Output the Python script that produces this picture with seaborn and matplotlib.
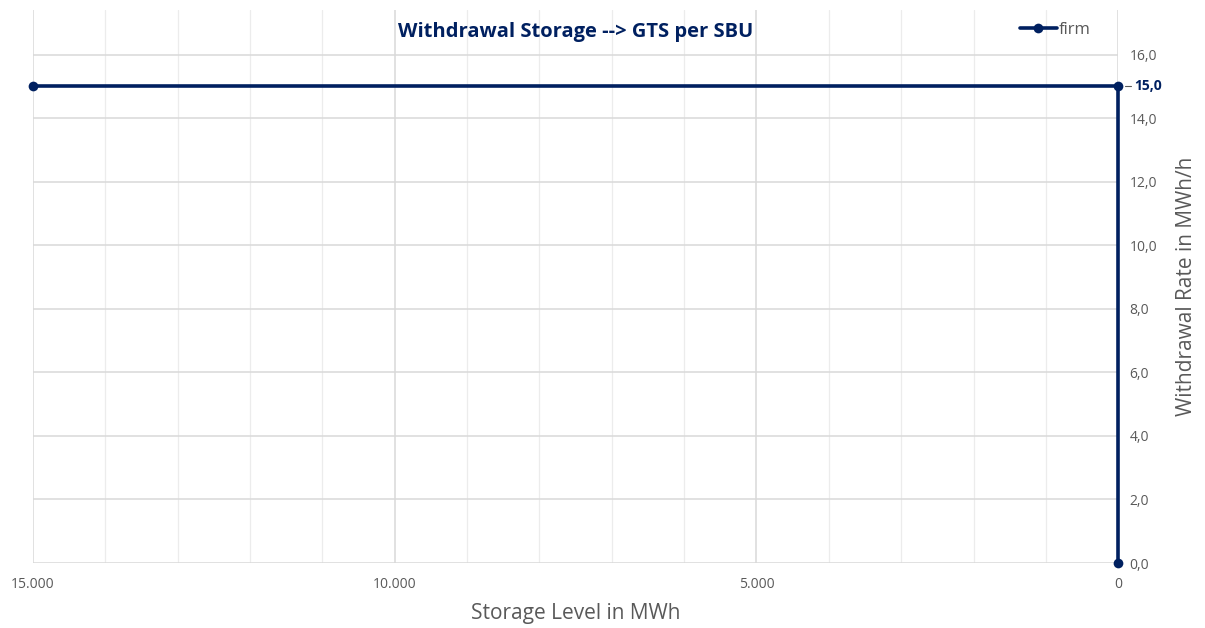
import matplotlib
matplotlib.use("Agg")
import matplotlib.pyplot as plt
import matplotlib.transforms as mtransforms
import seaborn as sns
import pandas as pd
from matplotlib.ticker import MultipleLocator, FuncFormatter

# data
storage_level = [15000, 0, 0]
withdrawal_rate = [15.0, 15.0, 0.0]
series_name = "firm"
y_ticks = [0, 2, 4, 6, 8, 10, 12, 14, 16]
highlight_value = 15.0

df = pd.DataFrame({"level": storage_level, "rate": withdrawal_rate, "series": series_name})

sns.set_style("white")
plt.rcParams['font.family'] = ['Open Sans', 'DejaVu Sans']

navy = "#002060"
grey = "#595959"

fig = plt.figure(figsize=(12.05, 6.28), dpi=100)
ax = fig.add_axes([0.0274, 0.1035, 0.9006, 0.8805])

sns.lineplot(data=df, x="level", y="rate", sort=False, estimator=None, marker="o",
             markersize=7, color=navy, linewidth=2.6, markeredgewidth=0,
             label=series_name, ax=ax, zorder=5, clip_on=False)

ax.set_xlim(15000, 0)
ax.set_ylim(0, 17.4)

ax.xaxis.set_major_locator(MultipleLocator(5000))
ax.xaxis.set_minor_locator(MultipleLocator(1000))
ax.set_yticks(y_ticks)
ax.grid(which="major", axis="both", color="#d9d9d9", linewidth=1.1)
ax.grid(which="minor", axis="x", color="#ececec", linewidth=0.9)

ax.xaxis.set_major_formatter(FuncFormatter(lambda v, p: f"{int(v):,}".replace(",", ".")))
ax.yaxis.tick_right()
ax.yaxis.set_label_position("right")
ax.yaxis.set_major_formatter(FuncFormatter(lambda v, p: f"{v:.1f}".replace(".", ",")))
ax.tick_params(axis="both", which="both", length=0, labelsize=10, colors=grey, pad=8)
ax.tick_params(axis="x", pad=10)

# highlighted value on the right axis
trans = mtransforms.blended_transform_factory(ax.transAxes, ax.transData)
ax.plot([1.006, 1.012], [highlight_value, highlight_value], transform=trans,
        color=grey, linewidth=0.8, clip_on=False)
ax.text(1.0145, highlight_value, f"{highlight_value:.1f}".replace(".", ","), transform=trans,
        ha="left", va="center", fontsize=10, fontweight="bold", color=navy)

for s in ax.spines.values():
    s.set_visible(False)

ax.set_xlabel("Storage Level in MWh", fontsize=15, color=grey, labelpad=8)
ax.set_ylabel("Withdrawal Rate in MWh/h", fontsize=15, color=grey, labelpad=14)
ax.set_title("Withdrawal Storage --> GTS per SBU", fontsize=14.5, fontweight="bold",
             color=navy, y=0.936)

leg = ax.legend(loc="upper right", bbox_to_anchor=(0.985, 1.0), frameon=False,
                fontsize=12, handlelength=2.2, handletextpad=0.1, borderaxespad=0.3)
for t in leg.get_texts():
    t.set_color(grey)

plt.savefig("out.png", dpi=100)
